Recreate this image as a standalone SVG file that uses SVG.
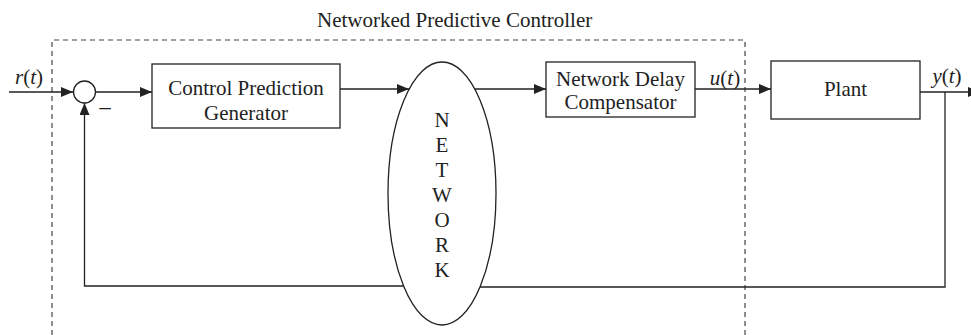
<svg xmlns="http://www.w3.org/2000/svg" width="971" height="335" viewBox="0 0 971 335">
  <style>
    .blk { fill: #ffffff; stroke: #222222; stroke-width: 1.3; }
    .ln { fill: none; stroke: #222222; stroke-width: 1.3; }
    .arr { marker-end: url(#ah); }
    .dash { fill: none; stroke: #444444; stroke-width: 1.2; stroke-dasharray: 5 4; }
    .t { font-family: "Liberation Serif", "Times New Roman", serif; font-size: 21px; fill: #222222; }
    .c { text-anchor: middle; }
    .i { font-style: italic; }
  </style>
  <defs>
    <marker id="ah" markerUnits="userSpaceOnUse" markerWidth="12" markerHeight="10" refX="12" refY="5" orient="auto">
      <path d="M0,0 L12,5 L0,10 Z" fill="#222222"/>
    </marker>
  </defs>

  <!-- controller boundary -->
  <g id="controller-boundary">
    <path class="dash" d="M52,335 V40 H745 V335"/>
    <text class="t" x="317" y="27">Networked Predictive Controller</text>
  </g>

  <!-- connectors -->
  <g id="connectors">
    <line class="ln arr" x1="9" y1="92" x2="73" y2="92"/>
    <line class="ln arr" x1="95.5" y1="92" x2="152" y2="92"/>
    <line class="ln arr" x1="340" y1="89" x2="409" y2="89"/>
    <line class="ln arr" x1="475" y1="89" x2="546" y2="89"/>
    <line class="ln arr" x1="695" y1="89" x2="771" y2="89"/>
    <line class="ln arr" x1="920" y1="92" x2="980" y2="92"/>
    <polyline class="ln" points="945,92 945,287 480,287"/>
    <polyline class="ln arr" points="403.6,286 84.5,286 84.5,103"/>
  </g>

  <!-- signal labels -->
  <g id="labels">
    <text class="t c" x="29" y="84"><tspan class="i">r</tspan>(<tspan class="i">t</tspan>)</text>
    <text class="t c" x="725" y="85"><tspan class="i">u</tspan>(<tspan class="i">t</tspan>)</text>
    <text class="t c" x="947" y="83"><tspan class="i">y</tspan>(<tspan class="i">t</tspan>)</text>
    <text class="t" x="98" y="117" style="font-size:25px">−</text>
  </g>

  <g id="sum-junction">
    <circle class="blk" cx="84.5" cy="92" r="11"/>
  </g>

  <g id="control-prediction-generator">
    <rect class="blk" x="152" y="64" width="188" height="64"/>
    <text class="t c" x="246" y="95">Control Prediction</text>
    <text class="t c" x="246" y="120">Generator</text>
  </g>

  <g id="network">
    <ellipse class="blk" cx="442" cy="193.5" rx="54" ry="131.5"/>
    <text class="t c" x="442" y="127">N</text>
    <text class="t c" x="442" y="152">E</text>
    <text class="t c" x="442" y="177">T</text>
    <text class="t c" x="442" y="202">W</text>
    <text class="t c" x="442" y="227">O</text>
    <text class="t c" x="442" y="252">R</text>
    <text class="t c" x="442" y="277">K</text>
  </g>

  <g id="network-delay-compensator">
    <rect class="blk" x="546" y="62" width="149" height="55"/>
    <text class="t c" x="620.5" y="86">Network Delay</text>
    <text class="t c" x="620.5" y="109">Compensator</text>
  </g>

  <g id="plant">
    <rect class="blk" x="771" y="61" width="149" height="58"/>
    <text class="t c" x="845.5" y="96">Plant</text>
  </g>
</svg>
